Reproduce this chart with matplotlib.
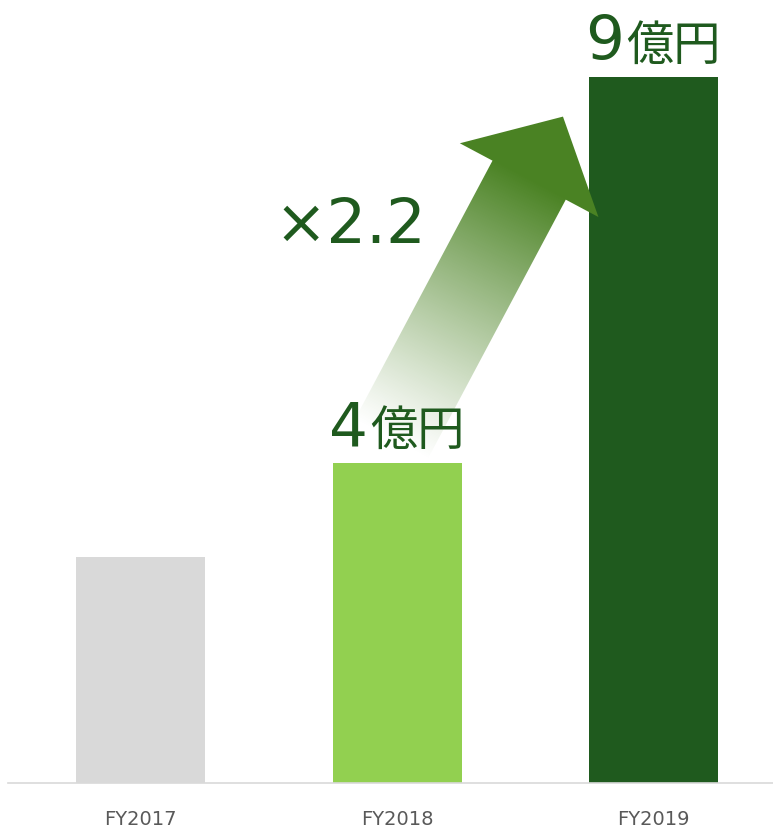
import numpy as np
import matplotlib
matplotlib.use('Agg')
import matplotlib.pyplot as plt
from matplotlib.patches import Polygon
from matplotlib.colors import to_rgb
from matplotlib import font_manager

plt.rcParams['font.family'] = ['DejaVu Sans', 'Noto Sans CJK JP']

# データ
years = ['FY2017', 'FY2018', 'FY2019']
revenue = [2.88, 4.08, 9.0]          # 億円
value_nums = ['', '4', '9']
value_unit = '億円'
bar_colors = ['#d9d9d9', '#92d050', '#1f5a1e']
growth_label = '×2.2'

W, H = 773, 828
fig = plt.figure(figsize=(W / 100, H / 100), dpi=100)
ax = fig.add_axes([8 / W, 44 / H, 765 / W, 784 / H])

x = np.arange(len(years))
ax.bar(x, revenue, width=0.503, color=bar_colors, zorder=2)
ax.set_xlim(-0.517, 2.466)
ax.set_ylim(0, 10)
ax.set_yticks([])
for side in ['top', 'right', 'left']:
    ax.spines[side].set_visible(False)
ax.spines['bottom'].set_color('#d9d9d9')
ax.spines['bottom'].set_linewidth(1.2)

narrow = [f for f in ['Liberation Sans Narrow', 'DejaVu Sans']
          if any(e.name == f for e in font_manager.fontManager.ttflist)]
ax.set_xticks(x, years)
for lab in ax.get_xticklabels():
    lab.set_family(narrow)
is_narrow = narrow[0] != 'DejaVu Sans'
ax.tick_params(axis='x', length=0, pad=17 if is_narrow else 19,
               labelsize=16 if is_narrow else 14,
               labelcolor='#595959')

# 上に重ねる描画用の軸（ピクセル座標）
ov = fig.add_axes([0, 0, 1, 1])
ov.patch.set_visible(False)
ov.axis('off')

# 矢印 (FY2018 -> FY2019)
p0 = ax.transData.transform((0.975, 4.37))
p1 = ax.transData.transform((1.647, 8.50))
shaft_w, head_w, head_len = 83, 157, 72
L = np.hypot(*(p1 - p0))
d = (p1 - p0) / L
n = np.array([-d[1], d[0]])
base = p1 - d * head_len
pts = np.array([p0 + n * shaft_w / 2, base + n * shaft_w / 2,
                base + n * head_w / 2, p1, base - n * head_w / 2,
                base - n * shaft_w / 2, p0 - n * shaft_w / 2])

xmin, ymin = pts.min(axis=0) - 2
xmax, ymax = pts.max(axis=0) + 2
gx, gy = np.meshgrid(np.arange(xmin, xmax), np.arange(ymin, ymax))
t = ((gx - p0[0]) * d[0] + (gy - p0[1]) * d[1]) / (L - head_len)
img = np.zeros(gx.shape + (4,))
img[..., :3] = to_rgb('#4a8223')
img[..., 3] = np.clip(t, 0, 1) ** 1.1
im = ov.imshow(img, extent=(xmin, xmax, ymin, ymax), origin='lower',
               interpolation='bilinear', aspect='auto', zorder=2)
im.set_clip_path(Polygon(pts, closed=True, transform=ov.transData))
ov.set_xlim(0, W)
ov.set_ylim(0, H)

# ラベル（数字と単位を別サイズで）
green = '#1f5a1e'
for i, (v, num) in enumerate(zip(revenue, value_nums)):
    if num:
        ov.annotate(num, xy=(i, v), xycoords=ax.transData,
                    xytext=(-29, 19), textcoords='offset pixels',
                    ha='right', va='baseline', fontsize=44,
                    color=green, zorder=3)
        ov.annotate(value_unit, xy=(i, v), xycoords=ax.transData,
                    xytext=(-27, 19), textcoords='offset pixels',
                    ha='left', va='baseline', fontsize=34,
                    family='Noto Sans CJK JP', color=green, zorder=3)

ov.text(0.817, 7.12, growth_label, transform=ax.transData,
        ha='center', va='center', fontsize=45, color=green, zorder=3)

fig.savefig('out.png', dpi=100)
